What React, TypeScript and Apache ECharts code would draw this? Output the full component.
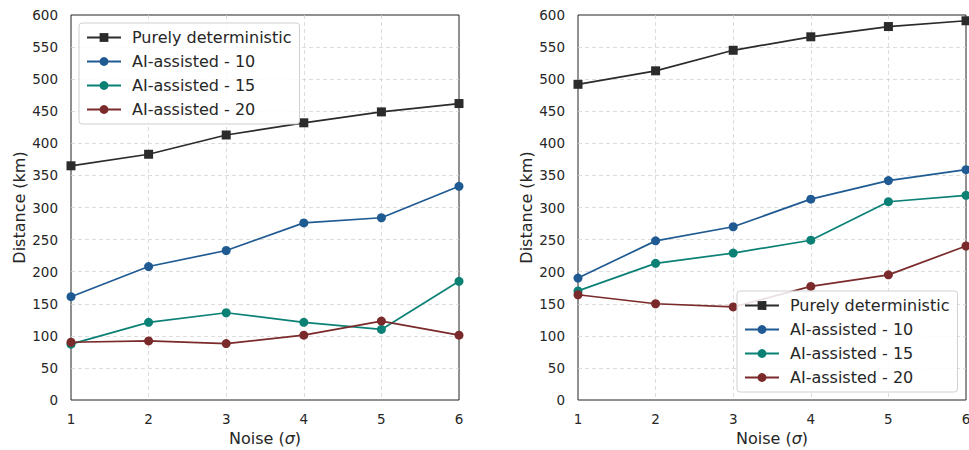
import React, { useEffect, useRef } from "react";
import * as echarts from "echarts";

const noise = [1, 2, 3, 4, 5, 6];
const seriesNames = ["Purely deterministic", "AI-assisted - 10", "AI-assisted - 15", "AI-assisted - 20"];
const leftDet = [365, 383, 413, 432, 449, 462];
const left10 = [161, 208, 233, 276, 284, 333];
const left15 = [87, 121, 136, 121, 110, 185];
const left20 = [90, 92, 88, 101, 123, 101];
const rightDet = [492, 513, 545, 566, 582, 591];
const right10 = [190, 248, 270, 313, 342, 359];
const right15 = [170, 213, 229, 249, 309, 319];
const right20 = [164, 150, 145, 177, 195, 240];
const colors = ["#2b2b2b", "#1f5a92", "#0b8176", "#7a2a2a"];
const symbols = ["rect", "circle", "circle", "circle"];

const FONT = "DejaVu Sans";

function pairs(ys: number[]) {
  return ys.map((y, i) => [noise[i], y]);
}

function makeAxes(gridIndex: number) {
  const split = { show: true, showMinLine: false, showMaxLine: false, lineStyle: { color: "#d4d4d4", type: [4, 3], width: 0.8 } };
  const xAxis = {
    type: "value",
    gridIndex,
    min: 1,
    max: 6,
    interval: 1,
    name: "Noise ({i|σ})",
    nameLocation: "middle",
    nameGap: 30,
    nameTextStyle: {
      fontFamily: FONT,
      fontSize: 16,
      color: "#262626",
      rich: { i: { fontFamily: FONT, fontSize: 16, fontStyle: "italic", color: "#262626" } },
    },
    axisLine: { show: false },
    axisTick: { show: false },
    axisLabel: { fontFamily: FONT, fontSize: 13.5, color: "#262626", margin: 12 },
    splitLine: split,
  };
  const yAxis = {
    type: "value",
    gridIndex,
    min: 0,
    max: 600,
    interval: 50,
    name: "Distance (km)",
    nameLocation: "middle",
    nameGap: 44,
    nameTextStyle: { fontFamily: FONT, fontSize: 16, color: "#262626" },
    axisLine: { show: false },
    axisTick: { show: false },
    axisLabel: { fontFamily: FONT, fontSize: 13.5, color: "#262626", margin: 13 },
    splitLine: split,
  };
  return { xAxis, yAxis };
}

function makeSeries(gridIndex: number, data: number[][]) {
  return data.map((ys, k) => ({
    type: "line",
    name: seriesNames[k],
    xAxisIndex: gridIndex,
    yAxisIndex: gridIndex,
    data: pairs(ys),
    symbol: symbols[k],
    symbolSize: 9,
    showAllSymbol: true,
    clip: false,
    color: colors[k],
    lineStyle: { color: colors[k], width: 1.7 },
    itemStyle: { color: colors[k] },
    z: 3,
  }));
}

function makeLegend(left: number, top: number) {
  return {
    left,
    top,
    orient: "vertical",
    data: seriesNames,
    itemWidth: 34,
    itemHeight: 11,
    itemGap: 5,
    padding: [5, 8, 5, 7],
    backgroundColor: "rgba(255,255,255,0.85)",
    borderColor: "#d0d0d0",
    borderWidth: 1,
    borderRadius: 3,
    textStyle: { fontFamily: FONT, fontSize: 16, color: "#262626", lineHeight: 19, padding: [0, 0, 0, 6] },
    selectedMode: false,
  };
}

export default function App() {
  const ref = useRef<HTMLDivElement>(null);
  useEffect(() => {
    if (!ref.current) return;
    const chart = echarts.init(ref.current, undefined, { renderer: "svg" });
    const a0 = makeAxes(0);
    const a1 = makeAxes(1);
    const gridCommon = {
      top: 15,
      width: 388,
      height: 385,
      show: true,
      borderColor: "#222",
      borderWidth: 1,
      backgroundColor: "transparent",
      containLabel: false,
      outerBoundsMode: "none",
    };
    chart.setOption({
      animation: false,
      backgroundColor: "#ffffff",
      grid: [
        { ...gridCommon, left: 71 },
        { ...gridCommon, left: 578 },
      ],
      xAxis: [a0.xAxis, a1.xAxis],
      yAxis: [a0.yAxis, a1.yAxis],
      legend: [makeLegend(79, 23), makeLegend(737, 291)],
      series: [
        ...makeSeries(0, [leftDet, left10, left15, left20]),
        ...makeSeries(1, [rightDet, right10, right15, right20]),
      ],
    });
    return () => chart.dispose();
  }, []);
  return (
    <div
      ref={ref}
      style={{ position: "fixed", left: 0, top: 0, width: 969, height: 450 }}
    />
  );
}
